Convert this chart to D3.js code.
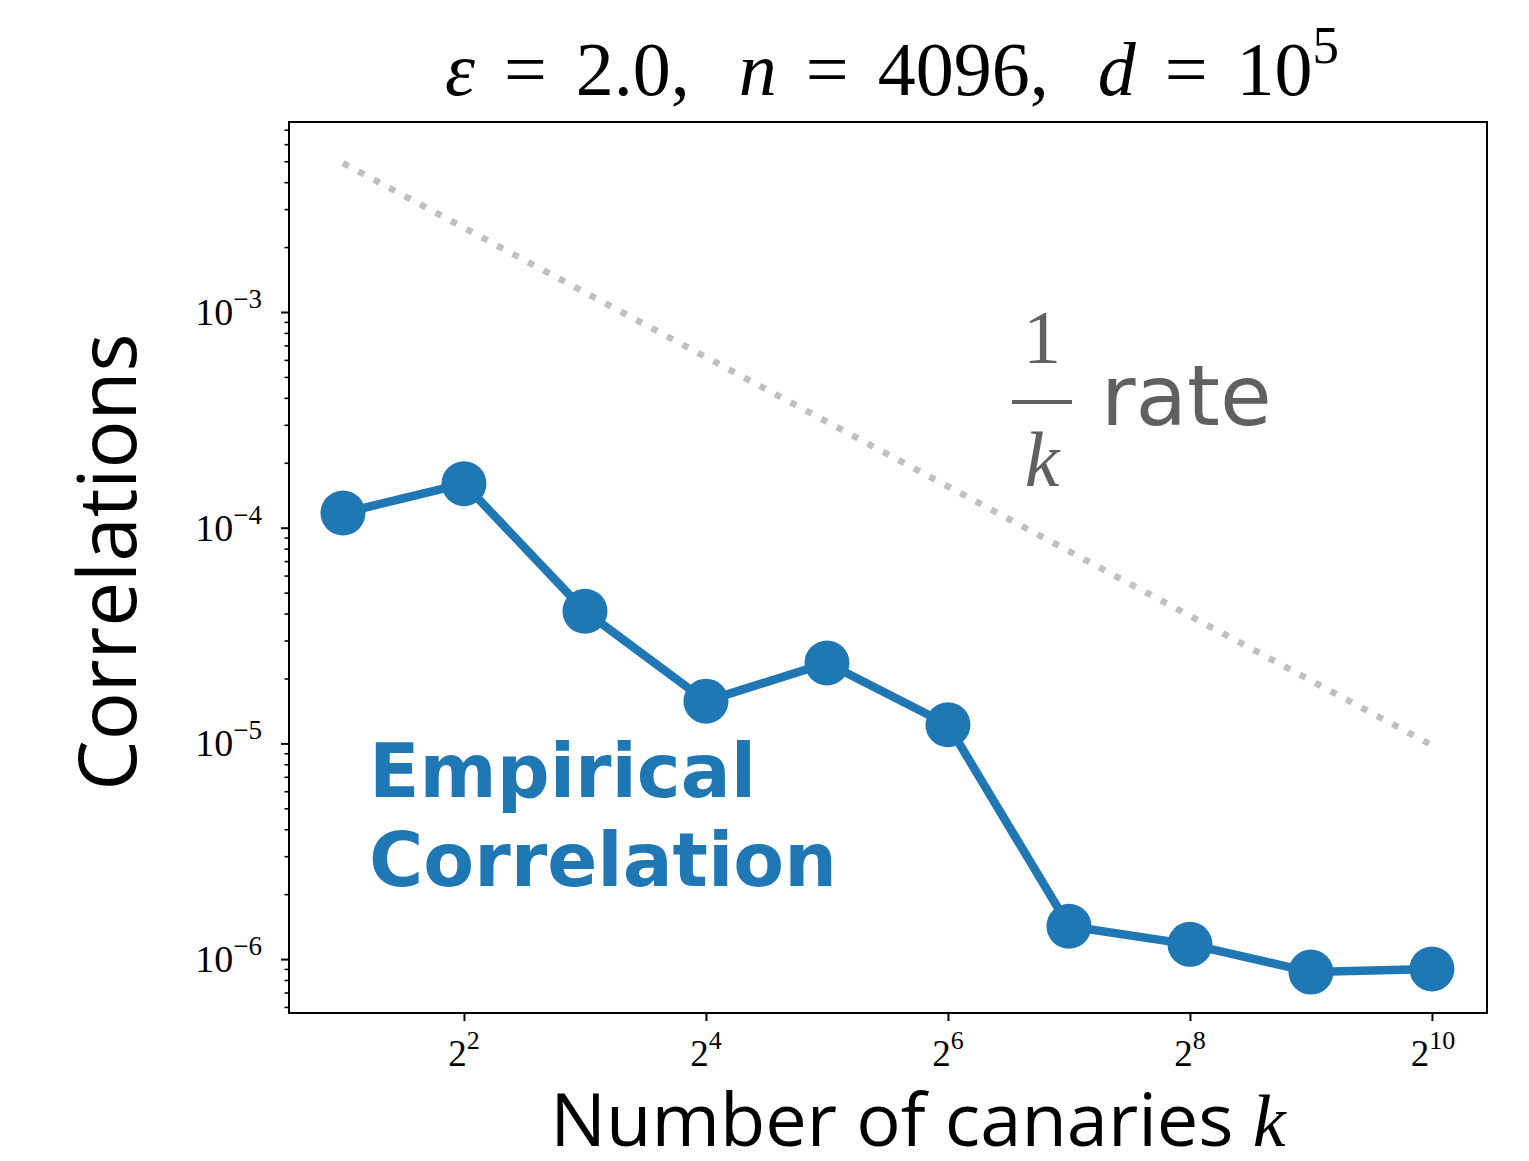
<!DOCTYPE html>
<html><head><meta charset="utf-8">
<script src="https://cdn.jsdelivr.net/npm/d3@7"></script>
<style>body{margin:0;background:#fff}svg{display:block}</style>
</head><body>
<script>
const ks = [2, 4, 8, 16, 32, 64, 128, 256, 512, 1024];
const corr = [1.17e-4, 1.6e-4, 4.1e-5, 1.57e-5, 2.36e-5, 1.22e-5, 1.42e-6, 1.17e-6, 8.7e-7, 9.0e-7];
const rateK = [2, 1024];
const rateVals = [4.9e-3, 9.8e-6];
const xTickExps = [2, 4, 6, 8, 10];
const yTickExps = [-6, -5, -4, -3];

const W = 1529, H = 1161;
const L = 289, R = 1487, T = 122, B = 1013;
const svg = d3.select("body").append("svg").attr("width", W).attr("height", H);

const x = d3.scaleLog().base(2).domain([Math.pow(2, 0.554), Math.pow(2, 10.455)]).range([L, R]);
const y = d3.scaleLog().domain([Math.pow(10, -6.25), Math.pow(10, -2.119)]).range([B, T]);

// y minor ticks
const minor = [];
for (let e = -7; e <= -2; e++) for (let m = 2; m <= 9; m++) {
  const v = m * Math.pow(10, e);
  if (v >= y.domain()[0] && v <= y.domain()[1]) minor.push(v);
}
svg.append("g").attr("transform", `translate(${L},0)`)
  .call(d3.axisLeft(y).tickValues(minor).tickSize(4.5).tickFormat(""))
  .call(g => g.select(".domain").remove())
  .call(g => g.selectAll("line").attr("stroke", "#000").attr("stroke-width", 1.6));
svg.append("g").attr("transform", `translate(${L},0)`)
  .call(d3.axisLeft(y).tickValues(yTickExps.map(e => Math.pow(10, e))).tickSize(8).tickFormat(""))
  .call(g => g.select(".domain").remove())
  .call(g => g.selectAll("line").attr("stroke", "#000").attr("stroke-width", 2));
svg.append("g").attr("transform", `translate(0,${B})`)
  .call(d3.axisBottom(x).tickValues(xTickExps.map(e => Math.pow(2, e))).tickSize(8).tickFormat(""))
  .call(g => g.select(".domain").remove())
  .call(g => g.selectAll("line").attr("stroke", "#000").attr("stroke-width", 2));

// y tick labels
yTickExps.forEach(e => {
  const t = svg.append("text").attr("x", 262).attr("y", y(Math.pow(10, e)) + 13)
    .attr("text-anchor", "end").attr("font-family", "Liberation Serif, serif").attr("font-size", 38);
  t.append("tspan").text("10");
  t.append("tspan").attr("dy", -17).attr("font-size", 27).text("\u2212" + (-e));
});
// x tick labels
xTickExps.forEach(e => {
  const t = svg.append("text").attr("x", x(Math.pow(2, e)) + (e >= 10 ? 1 : 0)).attr("y", 1066)
    .attr("text-anchor", "middle").attr("font-family", "Liberation Serif, serif").attr("font-size", 37);
  t.append("tspan").text("2");
  t.append("tspan").attr("dy", -17).attr("font-size", 26).text(String(e));
});

// rate line
const rateData = rateK.map((k, i) => ({k, v: rateVals[i]}));
svg.append("path").datum(rateData)
  .attr("d", d3.line().x(d => x(d.k)).y(d => y(d.v)))
  .attr("fill", "none").attr("stroke", "#c0c0c0").attr("stroke-width", 6.5)
  .attr("stroke-dasharray", "6.5,11");

// empirical series
const data = ks.map((k, i) => ({k, v: corr[i]}));
const blue = "#1f77b4";
svg.append("path").datum(data)
  .attr("d", d3.line().x(d => x(d.k)).y(d => y(d.v)))
  .attr("fill", "none").attr("stroke", blue).attr("stroke-width", 8.5).attr("stroke-linejoin", "round");
svg.selectAll("circle.pt").data(data).enter().append("circle")
  .attr("cx", d => x(d.k)).attr("cy", d => y(d.v)).attr("r", 22.5).attr("fill", blue);

// frame
svg.append("rect").attr("x", L).attr("y", T).attr("width", R - L).attr("height", B - T)
  .attr("fill", "none").attr("stroke", "#000").attr("stroke-width", 2);

// annotation: Empirical Correlation
const ann = svg.append("text").attr("font-family", "DejaVu Sans, sans-serif").attr("font-weight", "bold")
  .attr("font-size", 74).attr("fill", blue);
ann.append("tspan").attr("x", 369).attr("y", 797).text("Empirical");
ann.append("tspan").attr("x", 369).attr("y", 886).text("Correlation");

// annotation: 1/k rate
const gray = "#606060";
svg.append("text").attr("x", 1042).attr("y", 363).attr("text-anchor", "middle")
  .attr("font-family", "Liberation Serif, serif").attr("font-size", 76).attr("fill", gray).text("1");
svg.append("line").attr("x1", 1012).attr("x2", 1072).attr("y1", 402).attr("y2", 402)
  .attr("stroke", gray).attr("stroke-width", 4);
svg.append("text").attr("x", 1042).attr("y", 486).attr("text-anchor", "middle")
  .attr("font-family", "Liberation Serif, serif").attr("font-style", "italic").attr("font-size", 78).attr("fill", gray).text("k");
svg.append("text").attr("x", 1101).attr("y", 425)
  .attr("font-family", "DejaVu Sans, sans-serif").attr("font-size", 84).attr("fill", gray).text("rate");

// title
const title = svg.append("text").attr("x", 892).attr("y", 95).attr("text-anchor", "middle")
  .attr("font-family", "Liberation Serif, serif").attr("font-size", 76).attr("fill", "#000")
  .attr("xml:space", "preserve");
title.append("tspan").attr("font-style", "italic").text("\u03B5");
title.append("tspan").attr("dx", 10).text(" = ");
title.append("tspan").attr("dx", 10).text("2.0, ");
title.append("tspan").attr("dx", 30).attr("font-style", "italic").text("n");
title.append("tspan").attr("dx", 10).text(" = ");
title.append("tspan").attr("dx", 10).text("4096, ");
title.append("tspan").attr("dx", 30).attr("font-style", "italic").text("d");
title.append("tspan").attr("dx", 10).text(" = ");
title.append("tspan").attr("dx", 10).text("10");
title.append("tspan").attr("dy", -32).attr("font-size", 53).text("5");

// axis labels
const xl = svg.append("text").attr("x", 918).attr("y", 1146).attr("text-anchor", "middle")
  .attr("font-size", 74).attr("fill", "#000");
xl.append("tspan").attr("font-family", "Open Sans, sans-serif").text("Number of canaries ");
xl.append("tspan").attr("font-family", "Liberation Serif, serif").attr("font-style", "italic").text("k");

svg.append("text").attr("transform", `translate(136,562) rotate(-90)`).attr("text-anchor", "middle")
  .attr("font-family", "Open Sans, sans-serif").attr("font-size", 80).attr("fill", "#000").text("Correlations");
</script>
</body></html>
